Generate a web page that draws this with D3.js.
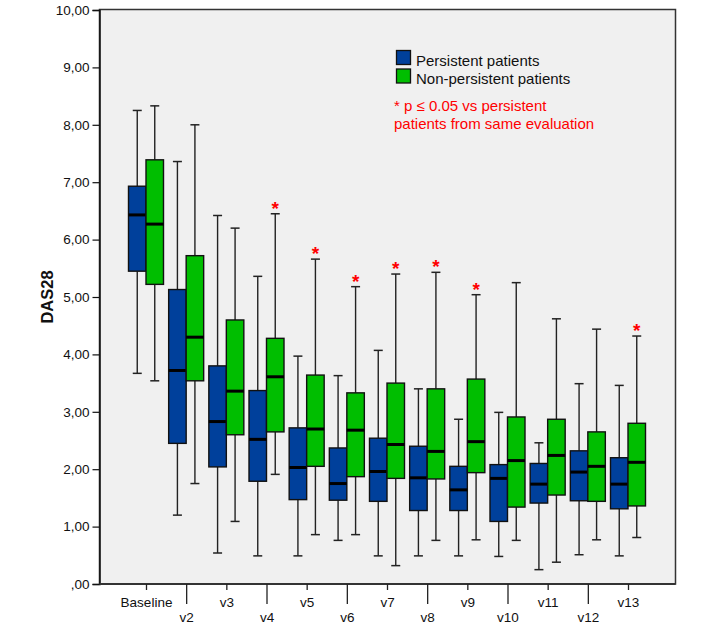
<!DOCTYPE html>
<html><head><meta charset="utf-8">
<script src="https://cdn.jsdelivr.net/npm/d3@7"></script>
<style>body{margin:0;background:#fff}svg{display:block}text{font-family:Arial,"Liberation Sans",sans-serif}</style>
</head><body><svg id="c" width="705" height="631"></svg>
<script>
const categories = ["Baseline","v2","v3","v4","v5","v6","v7","v8","v9","v10","v11","v12","v13"];
// Persistent patients
const persLow  = [3.67,1.20,0.54,0.49,0.49,0.76,0.49,0.49,0.49,0.48,0.25,0.51,0.49];
const persQ1   = [5.45,2.45,2.04,1.79,1.47,1.46,1.44,1.28,1.28,1.09,1.41,1.45,1.31];
const persMed  = [6.43,3.72,2.83,2.52,2.03,1.75,1.96,1.85,1.64,1.84,1.74,1.95,1.74];
const persQ3   = [6.93,5.13,3.80,3.37,2.72,2.37,2.54,2.40,2.05,2.08,2.10,2.32,2.20];
const persHigh = [8.25,7.36,6.42,5.36,3.97,3.63,4.07,3.40,2.87,2.99,2.46,3.49,3.46];
// Non-persistent patients
const nonLow   = [3.54,1.75,1.09,1.91,0.86,0.86,0.32,0.76,0.77,0.76,0.38,0.77,0.81];
const nonQ1    = [5.22,3.54,2.60,2.65,2.05,1.87,1.84,1.83,1.94,1.34,1.55,1.44,1.36];
const nonMed   = [6.27,4.30,3.36,3.61,2.70,2.68,2.43,2.31,2.48,2.15,2.24,2.05,2.12];
const nonQ3    = [7.39,5.72,4.60,4.28,3.64,3.33,3.50,3.40,3.57,2.91,2.87,2.65,2.80];
const nonHigh  = [8.33,8.00,6.20,6.45,5.66,5.18,5.40,5.43,5.04,5.25,4.62,4.44,4.32];
const significant = [false,false,false,true,true,true,true,true,true,false,false,false,true];
const yTicks = [0,1,2,3,4,5,6,7,8,9,10];
const seriesNames = ["Persistent patients","Non-persistent patients"];
const seriesColors = ["#00409B","#00BE00"];
const noteLines = ["* p \u2264 0.05 vs persistent","patients from same evaluation"];

(function(){
const svg = d3.select("#c");
const pLeft = 99.5, pRight = 675.5, pTop = 9.5, pBottom = 584;
const y = d3.scaleLinear().domain([0,10]).range([pBottom, 10]);
const x = d3.scalePoint().domain(categories).range([146, 628]);
const boxW = 17.5;

svg.append("rect").attr("x",pLeft).attr("y",pTop).attr("width",pRight-pLeft).attr("height",pBottom-pTop)
  .attr("fill","#F0F0F0").attr("stroke","#333").attr("stroke-width",1.5);

// y axis
const fmt = d => d===0 ? ",00" : d.toFixed(2).replace(".",",");
const ya = svg.append("g").attr("transform",`translate(${pLeft},0)`)
  .call(d3.axisLeft(y).tickValues(yTicks).tickFormat(fmt).tickSize(7).tickPadding(3));
ya.select(".domain").attr("stroke","#111").attr("stroke-width",1.5);
ya.selectAll(".tick line").attr("stroke","#111").attr("stroke-width",1.2);
ya.selectAll(".tick text").attr("font-size",13.5).attr("fill","#111").style("font-family","Arial, 'Liberation Sans', sans-serif");

// x axis
const xa = svg.append("g").attr("transform",`translate(0,${pBottom})`)
  .call(d3.axisBottom(x).tickSize(6).tickSizeOuter(0));
xa.select(".domain").attr("d",`M${pLeft},0H${pRight}`).attr("stroke","#333").attr("stroke-width",2);
xa.selectAll(".tick line").attr("stroke","#222").attr("stroke-width",1.3).attr("y2",(d,i)=> i%2 ? 20 : 6);
xa.selectAll(".tick text").attr("font-size",13.5).attr("fill","#111")
  .style("font-family","Arial, 'Liberation Sans', sans-serif")
  .attr("dy",null).attr("y",(d,i)=> i%2 ? 38 : 23);

svg.append("text").attr("transform",`translate(53,297) rotate(-90)`).attr("text-anchor","middle")
  .attr("font-size",16.5).attr("font-weight","bold").attr("fill","#111").text("DAS28");

const series = [
  {low:persLow,q1:persQ1,med:persMed,q3:persQ3,high:persHigh,off:-boxW,color:seriesColors[0]},
  {low:nonLow,q1:nonQ1,med:nonMed,q3:nonQ3,high:nonHigh,off:0,color:seriesColors[1]}
];
series.forEach(s=>{
  const g = svg.append("g");
  const items = categories.map((c,i)=>({c,i}));
  const gi = g.selectAll("g").data(items).join("g");
  const cx = d => x(d.c) + s.off + boxW/2;
  gi.append("line").attr("x1",cx).attr("x2",cx).attr("y1",d=>y(s.high[d.i])).attr("y2",d=>y(s.q3[d.i])).attr("stroke","#222").attr("stroke-width",1.4);
  gi.append("line").attr("x1",cx).attr("x2",cx).attr("y1",d=>y(s.q1[d.i])).attr("y2",d=>y(s.low[d.i])).attr("stroke","#222").attr("stroke-width",1.4);
  gi.append("line").attr("x1",d=>cx(d)-4.5).attr("x2",d=>cx(d)+4.5).attr("y1",d=>y(s.high[d.i])).attr("y2",d=>y(s.high[d.i])).attr("stroke","#222").attr("stroke-width",1.5);
  gi.append("line").attr("x1",d=>cx(d)-4.5).attr("x2",d=>cx(d)+4.5).attr("y1",d=>y(s.low[d.i])).attr("y2",d=>y(s.low[d.i])).attr("stroke","#222").attr("stroke-width",1.5);
  gi.append("rect").attr("x",d=>x(d.c)+s.off).attr("width",boxW)
    .attr("y",d=>y(s.q3[d.i])).attr("height",d=>y(s.q1[d.i])-y(s.q3[d.i]))
    .attr("fill",s.color).attr("stroke","#111").attr("stroke-width",1.4);
  gi.append("line").attr("x1",d=>x(d.c)+s.off).attr("x2",d=>x(d.c)+s.off+boxW)
    .attr("y1",d=>y(s.med[d.i])).attr("y2",d=>y(s.med[d.i])).attr("stroke","#000").attr("stroke-width",3);
});

// significance stars
svg.append("g").selectAll("text").data(categories.filter((c,i)=>significant[i]))
  .join("text").attr("x",c=>x(c)+boxW/2).attr("y",c=>y(nonHigh[categories.indexOf(c)])+1)
  .attr("text-anchor","middle").attr("font-size",19).attr("font-weight","bold").attr("fill","#FF0000").text("*");

// legend
const lg = svg.append("g");
seriesNames.forEach((n,i)=>{
  lg.append("rect").attr("x",396.5).attr("y",50.5+i*18.5).attr("width",14).attr("height",14)
    .attr("fill",seriesColors[i]).attr("stroke","#111").attr("stroke-width",1.3);
  lg.append("text").attr("x",416).attr("y",66+i*18).attr("font-size",15).attr("fill","#111").text(n);
});
noteLines.forEach((t,i)=>{
  lg.append("text").attr("x",394).attr("y",110.5+i*18).attr("font-size",15).attr("fill","#FF0000").text(t);
});
})();
</script></body></html>
